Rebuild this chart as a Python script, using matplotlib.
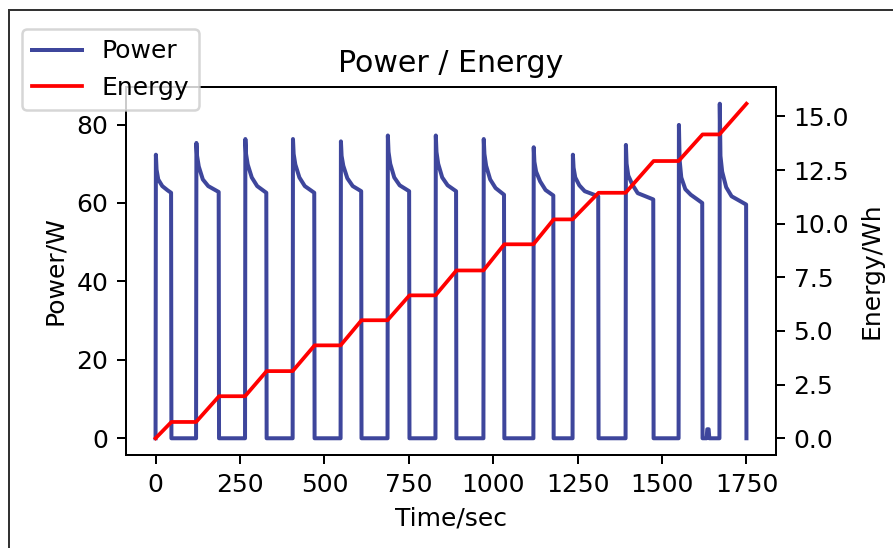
import matplotlib
matplotlib.use("Agg")
import matplotlib.pyplot as plt
from matplotlib.patches import Rectangle

# ---- data ----
pulse_on = [0, 120, 265, 406, 548, 687, 829, 971, 1119, 1235, 1392, 1549, 1670]
pulse_off = [47, 188, 329, 471, 610, 752, 891, 1033, 1179, 1312, 1475, 1620, 1750]
pulse_peak = [72.3, 75.3, 76.3, 76.3, 75.7, 77.2, 77.2, 76.3, 74.2, 72.3, 74.8, 79.9, 85.3]
pulse_p3 = [68.5, 72.0, 72.5, 72.5, 72.0, 73.0, 73.0, 72.5, 70.5, 69.0, 70.0, 71.0, 72.0]   # ~3 s after start
pulse_p8 = [66.0, 69.3, 69.8, 69.8, 69.5, 70.0, 70.0, 69.5, 68.0, 66.5, 67.0, 66.5, 68.0]   # ~8 s
pulse_p20 = [64.3, 66.0, 66.5, 66.5, 66.3, 66.5, 66.5, 66.0, 65.5, 64.5, 64.7, 63.5, 64.0]  # ~20 s
pulse_p36 = [63.2, 64.3, 64.3, 64.3, 64.3, 64.5, 64.5, 63.8, 63.3, 63.0, 62.5, 62.1, 61.7]  # ~36 s
pulse_end = [62.6, 62.8, 62.6, 62.6, 63.0, 63.0, 63.0, 62.1, 61.9, 61.7, 60.9, 60.0, 59.6]
pulse_offsets = [0, 1, 3, 8, 20, 36]

blip_time = [1632, 1634, 1636, 1638, 1640]
blip_power = [0, 2.3, 2.3, 2.3, 0]

energy_levels = [0, 0.76, 1.96, 3.13, 4.33, 5.50, 6.66, 7.82, 9.04, 10.2, 11.44, 12.92, 14.16, 15.59]

# ---- assemble power trace from read breakpoints ----
t_pow, p_pow = [], []
for i in range(len(pulse_on)):
    vals = [0, pulse_peak[i], pulse_p3[i], pulse_p8[i], pulse_p20[i], pulse_p36[i]]
    for off, v in zip(pulse_offsets, vals):
        if pulse_on[i] + off < pulse_off[i] - 1:
            t_pow.append(pulse_on[i] + off)
            p_pow.append(v)
    t_pow += [pulse_off[i] - 1, pulse_off[i]]
    p_pow += [pulse_end[i], 0]
    if i == 11:
        t_pow += blip_time
        p_pow += blip_power

# energy corners
t_en, e_en = [0], [0]
for i in range(len(pulse_on)):
    if i > 0:
        t_en.append(pulse_on[i]); e_en.append(energy_levels[i])
    t_en.append(pulse_off[i]); e_en.append(energy_levels[i + 1])

W, H, DPI = 893, 548, 180
fig = plt.figure(figsize=(W / DPI, H / DPI), dpi=DPI)
ax = fig.add_axes([126 / W, 1 - 455 / H, (776 - 126) / W, (455 - 87) / H])
l1, = ax.plot(t_pow, p_pow, color="#3E469C", lw=1.6, label="Power")
ax.set_xlabel("Time/sec")
ax.set_ylabel("Power/W")
ax.set_title("Power / Energy")
ax.set_xticks([0, 250, 500, 750, 1000, 1250, 1500, 1750])

ax2 = ax.twinx()
l2, = ax2.plot(t_en, e_en, color="red", lw=1.5, label="Energy")
ax2.set_ylabel("Energy/Wh")
ax2.set_yticks([0, 2.5, 5, 7.5, 10, 12.5, 15])

fig.legend([l1, l2], ["Power", "Energy"], loc="upper left",
           bbox_to_anchor=(21.7 / W, 1 - 29.3 / H), borderaxespad=0)

fig.add_artist(Rectangle((9 / W, -0.5), 2, 1.5 - 10 / H, transform=fig.transFigure,
                         fill=False, edgecolor="#333333", lw=0.8, clip_on=False))

fig.savefig("out.png", dpi=DPI)
